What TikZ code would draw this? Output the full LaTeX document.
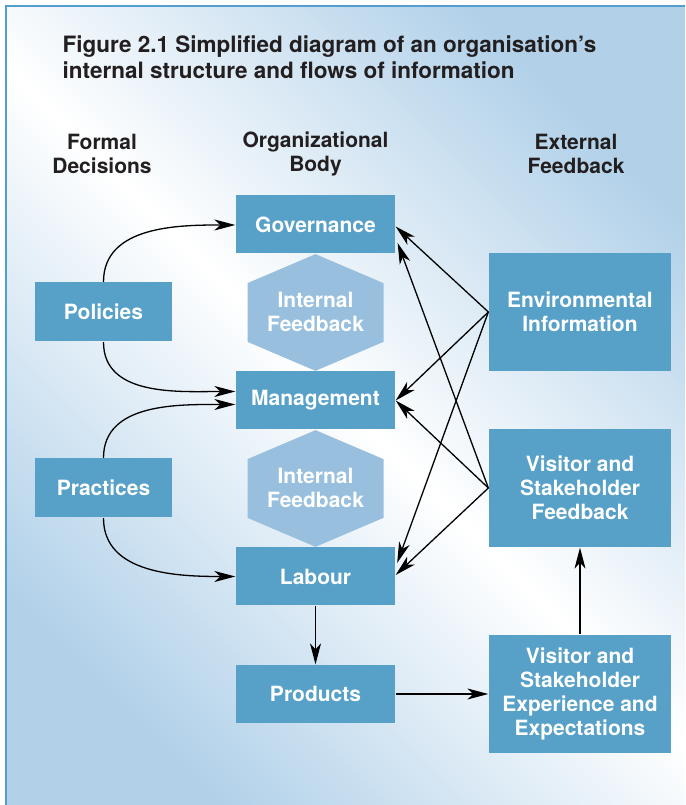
\documentclass[tikz,border=0pt]{standalone}
\usepackage{fontspec}
\setmainfont{TeX Gyre Heros}
\usetikzlibrary{arrows.meta}
\definecolor{boxblue}{RGB}{87,160,200}
\definecolor{hexblue}{RGB}{152,192,222}
\definecolor{bgblue}{RGB}{178,209,233}
\definecolor{frameblue}{RGB}{84,157,207}
\definecolor{ink}{RGB}{35,31,32}
\tikzset{
>={Stealth[length=21pt,width=11pt,inset=6pt]},
x=1pt, y=1pt,
node distance=176pt,
box/.style={fill=boxblue, text=white, align=center, inner sep=0pt,
  minimum width=159pt, minimum height=58pt,
  font=\bfseries\fontsize{21}{24}\selectfont},
sidebox/.style={box, minimum width=137pt, minimum height=59pt},
bigbox/.style={box, minimum width=182pt, minimum height=118pt},
hextext/.style={text=white, align=center, inner sep=0pt,
  font=\bfseries\fontsize{21}{24}\selectfont},
heading/.style={text=ink, align=center, inner sep=0pt,
  font=\bfseries\fontsize{21}{24}\selectfont},
}

\begin{document}
\begin{tikzpicture}[line width=1.3pt]
    % background and frame
    \useasboundingbox (0,0) rectangle (685,805);
    \shade[left color=bgblue, right color=bgblue, middle color=white, shading angle=-45] (6,0) rectangle (685,799);
    \draw[frameblue, line width=2pt] (6,0) -- (6,799) -- (685,799);

    \node[heading, anchor=north west, align=left, font=\bfseries\fontsize{22.5}{26}\selectfont] (title) at (62,769.5)
        {Figure 2.1 Simplified diagram of an organisation’s\\internal structure and flows of information};

    % organizational body
    \node[box] (gov) at (315.5,580.5) {Governance};
    \node[box,below of=gov] (mgmt) {Management};
    \node[box,below of=mgmt] (lab) {Labour};
    \node[box,node distance=117.5pt,below of=lab] (prod) {Products};

    \foreach \a/\b/\n in {gov/mgmt/hexa, mgmt/lab/hexb}{
        \fill[hexblue] (\a.south) -- ([shift={(68,-29)}]\a.south) -- ([shift={(68,29)}]\b.north)
            -- (\b.north) -- ([shift={(-68,29)}]\b.north) -- ([shift={(-68,-29)}]\a.south) -- cycle;
        \node[hextext,node distance=87.5pt,below of=\a] (\n) {Internal\\Feedback};
    }

    \node[sidebox,node distance=212pt,left of=hexa] (pol) {Policies};
    \node[sidebox,node distance=212pt,left of=hexb] (prac) {Practices};
    \node[bigbox,node distance=264.5pt,right of=hexa] (env) {Environmental\\Information};
    \node[bigbox,node distance=264.5pt,right of=hexb] (vsf) {Visitor and\\Stakeholder\\Feedback};
    \node[bigbox,node distance=264.5pt,right of=prod] (exp) {Visitor and\\Stakeholder\\Experience and\\Expectations};

    % column headings
    \node[heading,node distance=70.5pt,above of=gov] (hbody) {Organizational\\Body};
    \node[heading,node distance=213.5pt,left of=hbody] (hformal) {Formal\\Decisions};
    \node[heading,node distance=260.5pt,right of=hbody] (hext) {External\\Feedback};

    % formal decisions
    \draw[->] (pol.north) to[out=90,in=180] ([yshift=-0.5pt]gov.west);
    \draw[->] (pol.south) to[out=270,in=180] ([yshift=9pt]mgmt.west);
    \draw[->] (prac.north) to[out=90,in=180] ([yshift=-4pt]mgmt.west);
    \draw[->] (prac.south) to[out=270,in=180] (lab.west);

    % external feedback
    \draw[->] (env.west) -- ([yshift=-2pt]gov.east);
    \draw[->] (env.west) -- (mgmt.east);
    \draw[->] (env.west) -- ([shift={(1.5,13.5)}]lab.east);
    \draw[->] (vsf.west) -- ([shift={(2,-18.5)}]gov.east);
    \draw[->] (vsf.west) -- (mgmt.east);
    \draw[->] (vsf.west) -- ([yshift=1.5pt]lab.east);

    \draw[->] (lab) -- (prod);
    \draw[->] (prod) -- (exp);
    \draw[->] (exp) -- (vsf);
\end{tikzpicture}
\end{document}
